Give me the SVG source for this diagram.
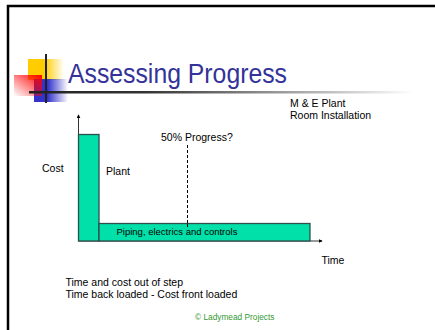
<svg xmlns="http://www.w3.org/2000/svg" width="435" height="330" viewBox="0 0 435 330">
<defs>
<linearGradient id="gy" x1="0" y1="0" x2="1" y2="0"><stop offset="0" stop-color="#ffcc00"/><stop offset="0.45" stop-color="#ffcc00"/><stop offset="1" stop-color="#ffcc00" stop-opacity="0"/></linearGradient>
<linearGradient id="gr" x1="1" y1="0" x2="0" y2="1"><stop offset="0" stop-color="#ff0000"/><stop offset="1" stop-color="#ff0000" stop-opacity="0"/></linearGradient>
<linearGradient id="gb" x1="0" y1="0" x2="1" y2="0"><stop offset="0" stop-color="#3333cc"/><stop offset="0.4" stop-color="#3333cc"/><stop offset="1" stop-color="#3333cc" stop-opacity="0"/></linearGradient>
<linearGradient id="gl" x1="0" y1="0" x2="1" y2="0"><stop offset="0" stop-color="#222"/><stop offset="0.3" stop-color="#333"/><stop offset="1" stop-color="#333" stop-opacity="0"/></linearGradient>
<marker id="arr" viewBox="0 0 6 6" refX="5" refY="3" markerWidth="4" markerHeight="4" orient="auto" markerUnits="userSpaceOnUse"><path d="M0,0 L6,3 L0,6 z" fill="#000"/></marker>
<style>
.t{font-family:"Liberation Sans",Arial,sans-serif;fill:#000;}
.bar{fill:#00e0a8;stroke:#2f4f4f;stroke-width:1.3;}
</style>
</defs>
<rect x="0" y="0" width="435" height="330" fill="#fff"/>
<path d="M8,330 V6 H435" fill="none" stroke="#000" stroke-width="2.5"/>
<g id="logo">
<rect x="28" y="59" width="36" height="21" fill="url(#gy)"/>
<rect x="34" y="79" width="34" height="23" fill="url(#gb)"/>
<rect x="14" y="75" width="28" height="21" fill="url(#gr)"/>
<rect x="29" y="91" width="385" height="2.5" fill="url(#gl)"/>
<rect x="45" y="54" width="2" height="49" fill="#222"/>
</g>
<text class="t" x="68" y="83" font-size="27" textLength="219" lengthAdjust="spacingAndGlyphs" style="fill:#333399">Assessing Progress</text>
<g id="subtitle">
<text class="t" x="290" y="107" font-size="10.5">M &amp; E Plant</text>
<text class="t" x="290" y="119" font-size="10.5">Room Installation</text>
</g>
<g id="connectors">
<line x1="78.5" y1="241" x2="78.5" y2="115" stroke="#333" stroke-width="1" marker-end="url(#arr)"/>
<line x1="78.5" y1="241" x2="322" y2="241" stroke="#333" stroke-width="1" marker-end="url(#arr)"/>
<line x1="187.5" y1="145" x2="187.5" y2="227" stroke="#000" stroke-width="1" stroke-dasharray="3,2"/>
</g>
<g id="plant">
<rect class="bar" x="78.5" y="134.5" width="20.5" height="106.5"/>
<text class="t" x="106" y="175" font-size="10.5">Plant</text>
</g>
<g id="piping">
<rect class="bar" x="99" y="223.5" width="211" height="17.5"/>
<text class="t" x="116.5" y="234.5" font-size="9.5">Piping, electrics and controls</text>
</g>
<line x1="187.5" y1="223.5" x2="187.5" y2="227" stroke="#000" stroke-width="1"/>
<text class="t" x="42" y="172" font-size="10.5">Cost</text>
<text class="t" x="161" y="141" font-size="10.5">50% Progress?</text>
<text class="t" x="321.5" y="264" font-size="10.5">Time</text>
<text class="t" x="65.5" y="286" font-size="10.5">Time and cost out of step</text>
<text class="t" x="65.5" y="297.5" font-size="10.5">Time back loaded - Cost front loaded</text>
<text class="t" x="195" y="320" font-size="8.3" style="fill:#339933">© Ladymead Projects</text>
</svg>
